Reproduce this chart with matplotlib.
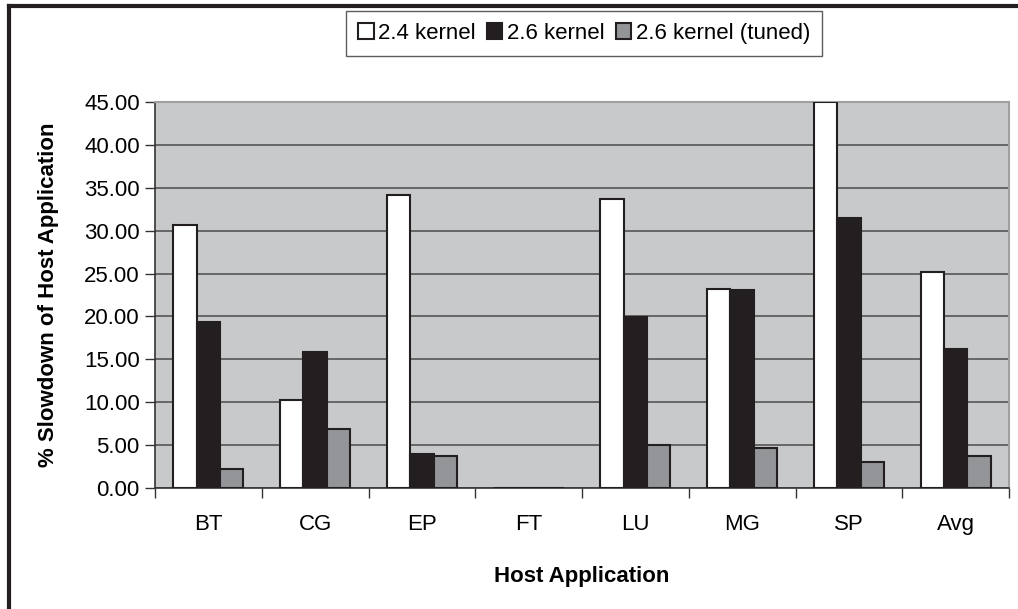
import matplotlib
matplotlib.use("Agg")
import matplotlib.pyplot as plt
from matplotlib.lines import Line2D
import numpy as np

plt.rcParams['font.family'] = ['Liberation Sans', 'DejaVu Sans']

categories = ["BT", "CG", "EP", "FT", "LU", "MG", "SP", "Avg"]
series_names = ["2.4 kernel", "2.6 kernel", "2.6 kernel (tuned)"]
k24 = [30.7, 10.3, 34.1, 0.0, 33.7, 23.2, 45.0, 25.2]
k26 = [19.3, 15.9, 4.0, 0.0, 19.9, 23.1, 31.5, 16.2]
k26t = [2.2, 6.9, 3.7, 0.0, 5.0, 4.7, 3.0, 3.7]
yticks = [0, 5, 10, 15, 20, 25, 30, 35, 40, 45]

fig = plt.figure(figsize=(10.18, 6.09), dpi=100)
ax = fig.add_axes([155/1018, 1 - 488/609, (1009-155)/1018, (488-102)/609])
ax.set_facecolor('#c8c9cb')

x = np.arange(len(categories))
w = 0.218
colors = ['#ffffff', '#231f20', '#939598']
for i, (vals, c) in enumerate(zip([k24, k26, k26t], colors)):
    ax.bar(x + (i - 1) * w, vals, width=w, color=c, edgecolor='#231f20',
           linewidth=1.5, label=series_names[i], zorder=3)

ax.set_xlim(-0.5, len(categories) - 0.5)
ax.set_ylim(0, 45)
ax.set_yticks(yticks)
ax.set_yticklabels([f"{v:.2f}" for v in yticks], fontsize=16)
ax.yaxis.grid(True, color='#555555', linewidth=1.2, zorder=1)
ax.set_axisbelow(True)
ax.tick_params(axis='y', length=7, width=1, color='#333333', pad=4)

ax.set_xticks(x)
ax.set_xticklabels(categories, fontsize=16)
ax.set_xticks(np.arange(-0.5, len(categories)), minor=True)
ax.tick_params(axis='x', which='major', length=0, pad=19)
ax.tick_params(axis='x', which='minor', length=7, width=1, color='#333333')

for side in ['top', 'right']:
    ax.spines[side].set_color('#a0a0a0')
    ax.spines[side].set_linewidth(1.5)
ax.spines['left'].set_color('#333333')
ax.spines['bottom'].set_color('#333333')
ax.spines['left'].set_linewidth(1.2)
ax.spines['bottom'].set_linewidth(1.2)

ax.set_ylabel("% Slowdown of Host Application", fontsize=16, fontweight='bold', labelpad=18)
ax.set_xlabel("Host Application", fontsize=16, fontweight='bold', labelpad=22)

leg = fig.legend(loc='center', bbox_to_anchor=(584/1018, 1 - 33.5/609), ncol=3,
                 fontsize=16, frameon=True, fancybox=False, handlelength=0.7,
                 handleheight=0.7, handletextpad=0.2, columnspacing=0.5,
                 borderpad=0.55, borderaxespad=0)
leg.get_frame().set_edgecolor('#333333')
leg.get_frame().set_linewidth(1.0)

fig.add_artist(Line2D([9/1018, 1.0], [1 - 5.5/609, 1 - 5.5/609], color='#231f20', linewidth=3, transform=fig.transFigure))
fig.add_artist(Line2D([9/1018, 9/1018], [0, 1 - 5.5/609], color='#231f20', linewidth=3, transform=fig.transFigure))

fig.savefig("out.png", dpi=100)
